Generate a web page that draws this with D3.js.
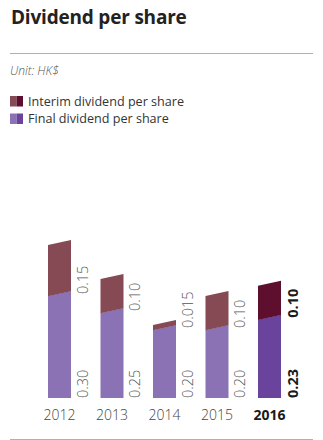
<!DOCTYPE html>
<html>
<head>
<meta charset="utf-8">
<script src="https://cdn.jsdelivr.net/npm/d3@7/dist/d3.min.js"></script>
<style>
  html, body { margin: 0; padding: 0; background: #fff; }
  svg { display: block; }
  text { font-family: "Open Sans", "Noto Sans", sans-serif; }
</style>
</head>
<body>
<svg id="chart" width="323" height="440"></svg>
<script>
const years = ["2012", "2013", "2014", "2015", "2016"];
const finalValues = [0.30, 0.25, 0.20, 0.20, 0.23];
const interimValues = [0.15, 0.10, 0.015, 0.10, 0.10];
const finalLabels = ["0.30", "0.25", "0.20", "0.20", "0.23"];
const interimLabels = ["0.15", "0.10", "0.015", "0.10", "0.10"];
const highlightYear = "2016";
const legendLabels = ["Interim dividend per share", "Final dividend per share"];

const colors = {
  interim: "#854a53", interimHi: "#5f0f2e",
  final: "#8b72b4", finalHi: "#6a449c"
};

const svg = d3.select("#chart");

// Title
svg.append("text").attr("x", 11).attr("y", 24)
  .attr("font-size", 19).attr("font-weight", 700).attr("fill", "#222")
  .attr("letter-spacing", -0.2)
  .text("Dividend per share");

svg.append("line").attr("x1", 10).attr("x2", 313).attr("y1", 53.5).attr("y2", 53.5)
  .attr("stroke", "#b0b0b0").attr("stroke-width", 1);

svg.append("text").attr("x", 10).attr("y", 75)
  .attr("font-size", 12).attr("font-style", "italic").attr("font-weight", 300).attr("fill", "#555")
  .text("Unit: HK$");

// Legend
const legendColors = [[colors.interim, colors.interimHi], [colors.final, colors.finalHi]];
legendLabels.forEach((lab, i) => {
  const g = svg.append("g").attr("transform", `translate(10,${96 + i * 17.5})`);
  g.append("rect").attr("x", 0).attr("y", 0).attr("width", 6.5).attr("height", 10.5).attr("fill", legendColors[i][0]);
  g.append("rect").attr("x", 6.5).attr("y", 0).attr("width", 6.5).attr("height", 10.5).attr("fill", legendColors[i][1]);
  g.append("text").attr("x", 18).attr("y", 9.5).attr("font-size", 12.6).attr("fill", "#333").text(lab);
});

// Scales
const x = d3.scaleBand().domain(years)
  .range([48, 48 + 4 * 52.5 + 23]).paddingInner(0.562).paddingOuter(0);
const y = d3.scaleLinear().domain([0, 0.5]).range([398, 228]);
const slant = 5;

const data = years.map((yr, i) => ({
  year: yr, final: finalValues[i], interim: interimValues[i],
  finalLabel: finalLabels[i], interimLabel: interimLabels[i],
  hi: yr === highlightYear
}));

function segPath(x0, w, yBottomL, yTopL, flatBottom) {
  const yBottomR = flatBottom ? yBottomL : yBottomL - slant;
  return `M${x0},${yBottomL}L${x0},${yTopL}L${x0 + w},${yTopL - slant}L${x0 + w},${yBottomR}Z`;
}

const bars = svg.append("g");
data.forEach(d => {
  const x0 = x(d.year), w = x.bandwidth();
  bars.append("path")
    .attr("d", segPath(x0, w, y(0), y(d.final), true))
    .attr("fill", d.hi ? colors.finalHi : colors.final);
  bars.append("path")
    .attr("d", segPath(x0, w, y(d.final) + 0.3, y(d.final + d.interim), false))
    .attr("fill", d.hi ? colors.interimHi : colors.interim);

  const lx = x0 + w + 17;
  svg.append("text")
    .attr("transform", `translate(${lx},${y(0)}) rotate(-90)`)
    .attr("font-size", 14.5)
    .attr("font-weight", d.hi ? 700 : 300)
    .attr("fill", d.hi ? "#1a1a1a" : "#555")
    .text(d.finalLabel);
  svg.append("text")
    .attr("transform", `translate(${lx},${y(d.final) - 2}) rotate(-90)`)
    .attr("font-size", 14.5)
    .attr("font-weight", d.hi ? 700 : 300)
    .attr("fill", d.hi ? "#1a1a1a" : "#555")
    .text(d.interimLabel);
});

// Year axis
const xAxis = svg.append("g").attr("transform", "translate(0,398)")
  .call(d3.axisBottom(x).tickSize(0).tickPadding(0));
xAxis.select(".domain").remove();
xAxis.selectAll("text")
  .attr("y", 22).attr("dy", null)
  .attr("font-size", 14)
  .attr("font-family", "\"Open Sans\", sans-serif")
  .attr("font-weight", d => d === highlightYear ? 700 : 300)
  .attr("fill", d => d === highlightYear ? "#1a1a1a" : "#444");

svg.append("line").attr("x1", 10).attr("x2", 313).attr("y1", 439.5).attr("y2", 439.5)
  .attr("stroke", "#b0b0b0").attr("stroke-width", 1);
</script>
</body>
</html>
